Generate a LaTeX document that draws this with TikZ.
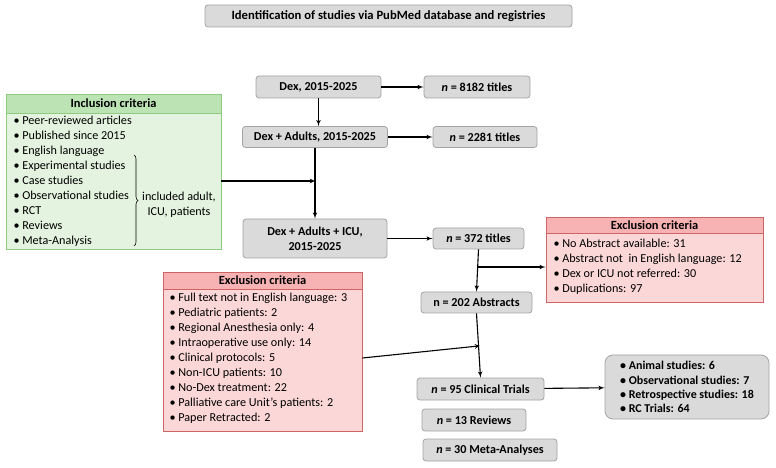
\documentclass[tikz,border=0pt]{standalone}
\usepackage{fontspec}
\setmainfont{Carlito}
\usetikzlibrary{arrows,decorations.pathreplacing}

\definecolor{boxgray}{HTML}{DADADA}
\definecolor{linegray}{HTML}{A3A3A3}
\definecolor{greenhead}{HTML}{BCE3B4}
\definecolor{greenbody}{HTML}{E4F3DF}
\definecolor{greenline}{HTML}{8DCB7F}
\definecolor{redhead}{HTML}{F7B3B3}
\definecolor{redbody}{HTML}{FCD7D7}
\definecolor{redline}{HTML}{CF6464}

\begin{document}
\begin{tikzpicture}[x=1bp,y=-1bp,->,>=latex',line width=1.1bp,
    font=\fontsize{12.2}{15}\selectfont]
    \tikzstyle{step box}=[draw=linegray,fill=boxgray,rounded corners=3bp,line width=0.8bp,
        inner sep=0pt,align=center,font=\fontsize{12.2}{15}\selectfont\bfseries]
    \tikzstyle{head}=[draw,line width=0.8bp,inner sep=0pt,font=\fontsize{12.5}{14}\selectfont\bfseries]
    \tikzstyle{body}=[draw,line width=0.8bp,inner sep=0pt,align=left]
    \useasboundingbox (0,0) rectangle (776,468);

    % search steps
    \node[step box, minimum width=367bp, minimum height=22bp, font=\fontsize{12.7}{14}\selectfont\bfseries] (title) at (388.5,16)
        {Identification of studies via PubMed database and registries};
    \node[step box, minimum width=125bp, minimum height=22bp] (dex) at (318.5,87) {Dex, 2015-2025};
    \node[step box, minimum width=106bp, minimum height=22bp] (n8182) at (477,87) {\textit{n} = 8182 titles};
    \node[step box, minimum width=145bp, minimum height=21bp] (adults) at (315,137) {Dex + Adults, 2015-2025};
    \node[step box, minimum width=104bp, minimum height=21bp] (n2281) at (485,137) {\textit{n} = 2281 titles};
    \node[step box, minimum width=144bp, minimum height=39bp] (icu) at (315,238.5) {Dex + Adults + ICU,\\2015-2025};
    \node[step box, minimum width=91bp, minimum height=21bp] (n372) at (478.5,238.5) {\textit{n} = 372 titles};
    \node[step box, minimum width=111bp, minimum height=21bp] (abstracts) at (476.5,302.5) {n = 202 Abstracts};
    \node[step box, minimum width=127bp, minimum height=22bp] (trials) at (480.5,389) {\textit{n} = 95 Clinical Trials};
    \node[step box, minimum width=104bp, minimum height=22bp] (reviews) at (474,420) {\textit{n} = 13 Reviews};
    \node[step box, minimum width=134bp, minimum height=22bp] (meta) at (490,450) {\textit{n} = 30 Meta-Analyses};
    \node[step box, rounded corners=8bp, minimum width=164bp, minimum height=64bp, align=left,
        font=\fontsize{12}{14.3}\selectfont\bfseries] (studies) at (687,387)
        {• Animal studies: 6\\• Observational studies: 7\\• Retrospective studies: 18\\• RC Trials: 64};

    % inclusion criteria
    \node[head, draw=greenline, fill=greenhead, minimum width=215bp, minimum height=19bp] (inchead) at (113.5,103.5) {Inclusion criteria};
    \node[body, draw=greenline, fill=greenbody, minimum width=215bp, minimum height=136bp] (incbody) at (113.5,181) {};
    \node[anchor=north west, align=left, inner sep=0pt] (inclist) at (13,116)
        {• Peer-reviewed articles\\• Published since 2015\\• English language\\• Experimental studies\\• Case studies\\• Observational studies\\• RCT\\• Reviews\\• Meta-Analysis};
    \draw[-, line width=0.6bp, decorate, decoration={brace, amplitude=4bp}] (134,155) -- (134,246);
    \node[align=center, inner sep=0pt] (incnote) at (179,205) {included adult,\\ICU, patients};

    % exclusion criteria (titles)
    \node[head, draw=redline, fill=redhead, minimum width=217bp, minimum height=16bp] (excRhead) at (654.5,225) {Exclusion criteria};
    \node[body, draw=redline, fill=redbody, minimum width=217bp, minimum height=69bp] (excRbody) at (654.5,267.5) {};
    \node[anchor=north west, align=left, inner sep=0pt] (excRlist) at (553,239)
        {• No Abstract available: 31\\• Abstract not \ in English language: 12\\• Dex or ICU not referred: 30\\• Duplications: 97};

    % exclusion criteria (abstracts)
    \node[head, draw=redline, fill=redhead, minimum width=199bp, minimum height=17bp] (excLhead) at (262.5,280.5) {Exclusion criteria};
    \node[body, draw=redline, fill=redbody, minimum width=199bp, minimum height=142bp] (excLbody) at (262.5,360) {};
    \node[anchor=north west, align=left, inner sep=0pt] (excLlist) at (169,293)
        {• Full text not in English language: 3\\• Pediatric patients: 2\\• Regional Anesthesia only: 4\\• Intraoperative use only: 14\\• Clinical protocols: 5\\• Non-ICU patients: 10\\• No-Dex treatment: 22\\• Palliative care Unit’s patients: 2\\• Paper Retracted: 2};

    % junctions
    \coordinate (incjoin) at (316,181);
    \coordinate (absjoin) at (478,267);
    \coordinate (trjoin) at (478.5,346);

    \draw (dex) -- (n8182);
    \draw (dex.south) -- (dex.south |- adults.north);
    \draw (adults.east) -- (n2281.west |- adults.east);
    \draw (adults.south) -- (icu.north);
    \draw (incbody.east |- incjoin) -- (incjoin);
    \draw (icu) -- (n372);
    \draw (n372.south) -- (abstracts.north);
    \draw (absjoin) -- (excRbody.west |- absjoin);
    \draw (abstracts.south) -- (trials.north);
    \draw[>=stealth, shorten >=-1bp] ([yshift=2bp]excLbody.east) -- (trjoin);
    \draw (trials) -- (studies);
\end{tikzpicture}
\end{document}
